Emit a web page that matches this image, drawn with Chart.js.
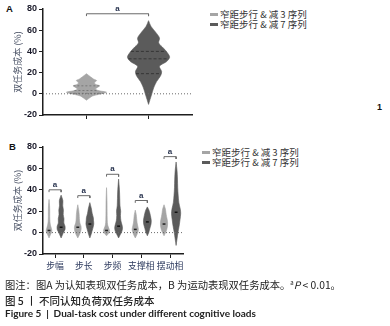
<!DOCTYPE html>
<html lang="zh">
<head>
<meta charset="UTF-8">
<title>Figure 5 Dual-task cost</title>
<script src="https://cdn.jsdelivr.net/npm/chart.js"></script>
<style>
  body { margin:0; width:390px; height:326px; background:#fff; position:relative; overflow:hidden; font-family:'Noto Sans CJK SC', sans-serif; }
  canvas { position:absolute; }
  .tag { position:absolute; font:bold 9.5px 'Liberation Sans', sans-serif; color:#111; }
  .legend { position:absolute; font-size:9.5px; color:#333; line-height:10px; }
  .legend div { display:flex; align-items:center; white-space:nowrap; height:10px; }
  .legend .box { width:8px; height:3px; margin-right:2px; display:inline-block; }
  .cap { position:absolute; left:5px; white-space:nowrap; color:#222; }
</style>
</head>
<body>
  <div class="tag" style="left:6px; top:3px;">A</div>
  <div class="tag" style="left:9px; top:141px;">B</div>
  <canvas id="chartA" width="200" height="125" style="left:0; top:0;"></canvas>
  <canvas id="chartB" width="200" height="140" style="left:0; top:138px;"></canvas>
  <div class="legend" id="legendA" style="left:210px; top:9px;"></div>
  <div class="legend" id="legendB" style="left:202px; top:147px;"></div>
  <div class="tag" style="left:377px; top:102px; font-size:9px;">1</div>

  <div class="cap" style="top:277px; font-size:10.3px;">图注：图A 为认知表现双任务成本，B 为运动表现双任务成本。<sup style="font-size:6px;">a</sup><i>P</i> &lt; 0.01。</div>
  <div class="cap" style="top:293px; font-size:10.5px; font-weight:500;">图 5 丨 不同认知负荷双任务成本</div>
  <div class="cap" style="top:307px; font:bold 10px Lato, sans-serif; color:#222;">Figure 5&nbsp;&nbsp;|&nbsp;&nbsp;Dual-task cost under different cognitive loads</div>

<script>
// ---- data ----
const seriesNames = ['窄距步行 & 减 3 序列', '窄距步行 & 减 7 序列'];
const yTicks = [-20, 0, 20, 40, 60, 80];

// panel A: violin profiles (value, relative width)
const aLightY = [-6, -4, -2, 0, 1.5, 3, 4.5, 6, 7.5, 9, 10.5, 12.5, 14, 16, 19];
const aLightD = [0, 0.14, 0.29, 0.71, 0.95, 0.57, 0.43, 0.52, 0.62, 0.43, 0.38, 0.48, 0.33, 0.19, 0];
const aLightQ = [0.5, 3, 7.5];
const aDarkY = [-10, -1, 5.5, 11.5, 17, 21, 26, 30.5, 34.5, 38.5, 43, 48, 52.5, 57, 63.5, 69];
const aDarkD = [0, 0.14, 0.24, 0.38, 0.57, 0.62, 0.52, 0.86, 1, 0.9, 0.71, 0.48, 0.52, 0.38, 0.12, 0];
const aDarkQ = [19, 33, 40];
const aSig = 75.5;

// panel B
const bCats = ['步幅', '步长', '步频', '支撑相', '摆动相'];
const bLightY = [
  [-5, -2, 0, 2, 4, 7, 10, 15, 20, 25, 31],
  [-5, -2, 0, 3, 6, 9, 13, 17, 21, 26],
  [-3, 0, 2, 4, 7, 12, 20, 30, 42],
  [-5, -2, 1, 3, 6, 9, 13, 17, 21],
  [-3, 0, 3, 6, 9, 12, 15, 19, 22, 26]
];
const bLightD = [
  [0, 0.3, 0.55, 0.62, 0.5, 0.3, 0.2, 0.15, 0.15, 0.12, 0],
  [0, 0.35, 0.55, 0.72, 0.7, 0.45, 0.35, 0.3, 0.2, 0],
  [0, 0.55, 0.65, 0.5, 0.25, 0.15, 0.12, 0.1, 0],
  [0, 0.35, 0.6, 0.68, 0.55, 0.4, 0.3, 0.2, 0],
  [0, 0.35, 0.6, 0.75, 0.78, 0.7, 0.55, 0.4, 0.3, 0]
];
const bDarkY = [
  [-5, -2, 0, 3, 6, 9, 13, 17, 21, 25, 30, 35],
  [-5, -2, 1, 4, 8, 11, 14, 18, 22, 28],
  [-5, -2, 1, 4, 7, 11, 16, 20, 25, 32, 40, 50],
  [-3, 0, 4, 8, 11, 14, 18, 21, 24],
  [-12, -6, 0, 6, 12, 18, 22, 28, 35, 42, 50, 58, 66]
];
const bDarkD = [
  [0, 0.3, 0.5, 0.85, 0.85, 0.6, 0.62, 0.45, 0.5, 0.35, 0.38, 0],
  [0, 0.25, 0.45, 0.65, 0.85, 0.8, 0.75, 0.5, 0.35, 0],
  [0, 0.35, 0.7, 0.85, 0.75, 0.5, 0.4, 0.45, 0.3, 0.25, 0.18, 0],
  [0, 0.3, 0.55, 0.8, 0.85, 0.75, 0.55, 0.35, 0],
  [0, 0.2, 0.4, 0.65, 0.85, 1, 0.9, 0.6, 0.45, 0.35, 0.3, 0.2, 0]
];
const bLightMed = [2, 5, 2, 3, 8];
const bDarkMed = [5, 8, 6, 10, 19];
const bSig = [40, 34.5, 54.5, 30, 71];

// ---- styles ----
const lightColor = '#a5a5a5';
const darkColor = '#5b5b5b';
const axisColor = '#1e1e1e';
const labelColor = '#2d3a5e';
const numFont = "'Liberation Sans', 'Noto Sans CJK SC', sans-serif";
const cjkFont = "'Noto Sans CJK SC', sans-serif";

function violinSet(cx, ys, ds, maxW, color) {
  const right = ys.map((y, i) => ({ x: cx + ds[i] * maxW, y: y }));
  const left = ys.map((y, i) => ({ x: cx - ds[i] * maxW, y: y })).reverse();
  return { data: right.concat(left), fill: 'shape', backgroundColor: color, borderColor: color,
           borderWidth: 0.6, pointRadius: 0, tension: 0.3, order: 5 };
}

function widthAt(ys, ds, v) {
  for (let i = 1; i < ys.length; i++) {
    if (v <= ys[i]) {
      const t = (v - ys[i - 1]) / (ys[i] - ys[i - 1]);
      return ds[i - 1] + t * (ds[i] - ds[i - 1]);
    }
  }
  return 0;
}

function segment(x1, x2, y, color, dash, w, order) {
  return { data: [{ x: x1, y: y }, { x: x2, y: y }], borderColor: color, borderDash: dash,
           borderWidth: w, pointRadius: 0, fill: false, order: order };
}

function bracket(x1, x2, y) {
  return { data: [{ x: x1, y: y - 2.2 }, { x: x1, y: y }, { x: x2, y: y }, { x: x2, y: y - 2.2 }],
           borderColor: '#6a6a6a', borderWidth: 1, pointRadius: 0, fill: false, clip: false, order: 0 };
}

const sigText = {
  id: 'sigText',
  afterDatasetsDraw(chart, args, opts) {
    const { ctx } = chart;
    const x = chart.scales.x, y = chart.scales.y;
    ctx.save();
    ctx.font = 'bold 8px ' + numFont;
    ctx.fillStyle = '#2a3550';
    ctx.textAlign = 'center';
    ctx.textBaseline = 'bottom';
    opts.marks.forEach(m => ctx.fillText('a', x.getPixelForValue(m.x), y.getPixelForValue(m.y) - 1));
    ctx.restore();
  }
};

function axes(xMin, xMax, xTicks, xLabels, xHeight) {
  return {
    x: {
      type: 'linear', min: xMin, max: xMax,
      afterBuildTicks: s => { s.ticks = xTicks.map(v => ({ value: v })); },
      afterFit: s => { s.height = xHeight; },
      ticks: { callback: v => xLabels[v - 1] || '', font: { size: 8.8, family: cjkFont }, color: labelColor,
               padding: 2, maxRotation: 0, autoSkip: false },
      grid: { drawOnChartArea: false, tickLength: 4, color: axisColor, lineWidth: 1 },
      border: { color: axisColor, width: 1.5 }
    },
    y: {
      min: -20, max: 80,
      afterBuildTicks: s => { s.ticks = yTicks.map(v => ({ value: v })); },
      afterFit: s => { s.width = 43; },
      ticks: { font: { size: 9, weight: 'bold', family: numFont }, color: '#1a1a2a', padding: 2 },
      grid: { drawOnChartArea: false, tickLength: 4, color: axisColor, lineWidth: 1 },
      border: { color: axisColor, width: 1.5 },
      title: { display: true, text: '双任务成本 (%)', font: { size: 9, family: cjkFont }, color: '#4d5568',
               padding: { top: 12, bottom: 0 } }
    }
  };
}

function baseOptions(scales, marks, pad) {
  return {
    responsive: false, animation: false,
    layout: { padding: pad },
    scales: scales,
    plugins: { legend: { display: false }, tooltip: { enabled: false }, sigText: { marks: marks } }
  };
}

// ---- panel A ----
const aMaxW = 0.34;
const aSets = [
  violinSet(1, aLightY, aLightD, aMaxW, lightColor),
  violinSet(2, aDarkY, aDarkD, aMaxW, darkColor)
];
aLightQ.forEach(q => { const w = widthAt(aLightY, aLightD, q) * aMaxW; aSets.push(segment(1 - w, 1 + w, q, '#6e6e6e', [2, 2], 0.8, 2)); });
aDarkQ.forEach(q => { const w = widthAt(aDarkY, aDarkD, q) * aMaxW; aSets.push(segment(2 - w, 2 + w, q, '#2c2c2c', [3, 2], 0.8, 2)); });
aSets.push(segment(0.3, 2.7, 0, '#6a6a6a', [1, 2], 1, 1));
aSets.push(bracket(1, 2, aSig));

new Chart(document.getElementById('chartA'), {
  type: 'line',
  data: { datasets: aSets },
  options: baseOptions(axes(0.3, 2.7, [1, 2], [], 10), [{ x: 1.5, y: aSig }], { top: 9, right: 8, left: 0, bottom: 0 }),
  plugins: [sigText]
});

// ---- panel B ----
const bMaxW = 0.16, bOff = 0.21;
const bSets = [];
const bMarks = [];
bCats.forEach((c, i) => {
  const cx = i + 1;
  bSets.push(violinSet(cx - bOff, bLightY[i], bLightD[i], bMaxW, lightColor));
  bSets.push(violinSet(cx + bOff, bDarkY[i], bDarkD[i], bMaxW, darkColor));
  bSets.push(segment(cx - bOff - 0.05, cx - bOff + 0.05, bLightMed[i], '#222', [], 1.5, 2));
  bSets.push(segment(cx + bOff - 0.05, cx + bOff + 0.05, bDarkMed[i], '#111', [], 1.5, 2));
  bSets.push(bracket(cx - bOff, cx + bOff, bSig[i]));
  bMarks.push({ x: cx, y: bSig[i] });
});
bSets.push(segment(0.58, 5.45, 0, '#6a6a6a', [1, 2], 1, 1));

new Chart(document.getElementById('chartB'), {
  type: 'line',
  data: { datasets: bSets },
  options: baseOptions(axes(0.58, 5.45, [1, 2, 3, 4, 5], bCats, 24), bMarks, { top: 9, right: 17, left: 0, bottom: 0 }),
  plugins: [sigText]
});

// ---- legends ----
['legendA', 'legendB'].forEach(id => {
  const el = document.getElementById(id);
  seriesNames.forEach((name, i) => {
    const row = document.createElement('div');
    const box = document.createElement('span');
    box.className = 'box';
    box.style.background = i === 0 ? lightColor : darkColor;
    row.appendChild(box);
    row.appendChild(document.createTextNode(name));
    el.appendChild(row);
  });
});
</script>
</body>
</html>
